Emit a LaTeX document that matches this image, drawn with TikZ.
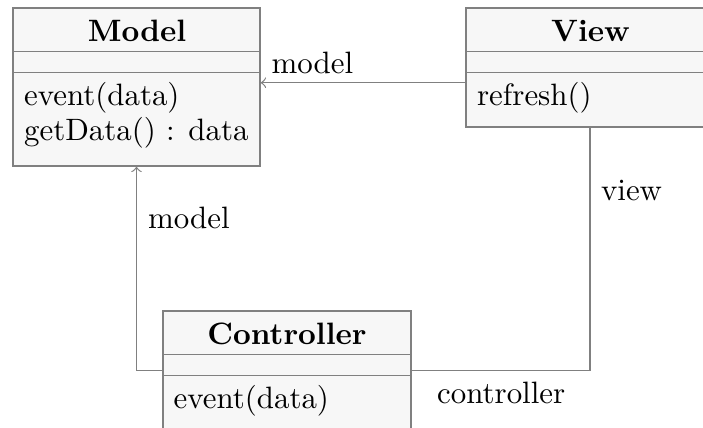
\documentclass[tikz,border=0pt]{standalone}
\usetikzlibrary{arrows}
\begin{document}
\begin{tikzpicture}[x={(0.33333pt,0)}, y={(0,-0.33333pt)},
  cls/.style={draw=black!50, fill=black!3, line width=0.4pt, inner sep=0pt, rectangle},
  sepline/.style={draw=black!50, line width=0.4pt},
  conn/.style={draw=black!50, line width=0.4pt},
  txt/.style={inner sep=0pt, anchor=base west, text=black, font=\fontsize{10.3}{12.4}\selectfont},
  ttl/.style={inner sep=0pt, anchor=base, text=black, font=\fontsize{10.3}{12.4}\selectfont\bfseries}]
\useasboundingbox (0,0) rectangle (703,427);
\clip (0,0) rectangle (703,427);
% classes
\node[cls, minimum width=82.33pt, minimum height=52.67pt] (model) at (136.5,87) {};
\node[cls, minimum width=82.67pt, minimum height=39.67pt] (view) at (590,67.5) {};
\node[cls, minimum width=82.67pt, minimum height=39.67pt] (controller) at (287,370.5) {};
% separators
\foreach \c in {model,view,controller}{
  \draw[sepline] ([yshift=-14.57pt]\c.north west) -- ([yshift=-14.57pt]\c.north east);
  \draw[sepline] ([yshift=-21.77pt]\c.north west) -- ([yshift=-21.77pt]\c.north east);
}
% titles
\node[ttl] (modelT) at (137,41) {Model};
\node[ttl] (viewT) at (590.5,41) {View};
\node[ttl] (ctrlT) at (287,344) {Controller};
% operations
\node[txt] (m1) at (23.5,105.5) {event(data)};
\node[txt] (m2) at (23.5,140.5) {getData() : data};
\node[txt] (v1) at (476.5,105.5) {refresh()};
\node[txt] (c1) at (173,408.5) {event(data)};
% connectors
\draw[conn, ->] ([yshift=-5.07pt]view.west) coordinate (vw) -- (vw -| model.east);
\draw[conn, ->] (controller.west) -| (model.south);
\draw[conn] (view.south) |- (controller.east);
% labels
\node[txt] (lblModelTop) at (271,73) {model};
\node[txt] (lblModelLeft) at (147.5,228.5) {model};
\node[txt] (lblView) at (600.5,200) {view};
\node[txt] (lblCtrl) at (436.5,403.5) {controller};
\end{tikzpicture}
\end{document}
